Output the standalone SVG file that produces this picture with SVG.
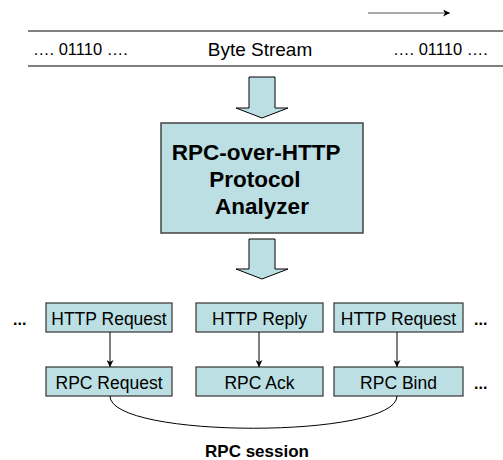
<svg xmlns="http://www.w3.org/2000/svg" width="503" height="460" viewBox="0 0 503 460">
<defs>
<style>
.t{font-family:"Liberation Sans",Arial,sans-serif;fill:#000}
.box{fill:#BBDFE2;stroke:#333;stroke-width:1.2}
.blk{fill:#BBDFE2;stroke:#000;stroke-width:1}
.con{stroke:#000;stroke-width:1;fill:none}
.lbl{font-size:17.5px}
</style>
<marker id="ah" viewBox="0 0 10 10" refX="10" refY="5" markerWidth="7" markerHeight="7" orient="auto" markerUnits="userSpaceOnUse">
<path d="M0,0 L10,5 L0,10 L3,5 z" fill="#000"/>
</marker>
</defs>
<rect width="503" height="460" fill="#fff"/>
<g id="stream">
<line x1="368" y1="13" x2="450" y2="13" stroke="#555" stroke-width="1.2" marker-end="url(#ah)"/>
<line x1="28" y1="31" x2="503" y2="31" stroke="#808080" stroke-width="2"/>
<line x1="28" y1="66" x2="503" y2="66" stroke="#000" stroke-width="1"/>
<text class="t" x="33" y="55" font-size="16.5">…. 01110 ….</text>
<text class="t" x="260" y="56" font-size="19" text-anchor="middle">Byte Stream</text>
<text class="t" x="393" y="55" font-size="16.5">…. 01110 ….</text>
</g>
<g id="arrow1">
<path class="blk" d="M249,77 H275 V108 H288 L262,118 L236,108 H249 Z"/>
</g>
<g id="analyzer">
<rect x="161" y="123" width="202" height="110" fill="#BBDFE2" stroke="#444" stroke-width="1.5"/>
<text class="t" font-size="22.5" font-weight="bold" text-anchor="middle">
<tspan x="259" y="160">RPC-over-HTTP</tspan>
<tspan x="258" y="187">Protocol</tspan>
<tspan x="262" y="214">Analyzer</tspan>
</text>
</g>
<g id="arrow2">
<path class="blk" d="M249,239 H275 V269 H288 L262,279 L236,269 H249 Z"/>
</g>
<g id="http1"><rect class="box" x="46" y="303" width="126" height="29"/><text class="t lbl" x="109" y="325" text-anchor="middle">HTTP Request</text></g>
<g id="http2"><rect class="box" x="196" y="303" width="127" height="29"/><text class="t lbl" x="259.5" y="325" text-anchor="middle">HTTP Reply</text></g>
<g id="http3"><rect class="box" x="334" y="303" width="129" height="29"/><text class="t lbl" x="398.5" y="325" text-anchor="middle">HTTP Request</text></g>
<g id="rpc1"><rect class="box" x="46" y="367" width="126" height="29"/><text class="t lbl" x="109" y="389" text-anchor="middle">RPC Request</text></g>
<g id="rpc2"><rect class="box" x="196" y="367" width="127" height="29"/><text class="t lbl" x="259.5" y="389" text-anchor="middle">RPC Ack</text></g>
<g id="rpc3"><rect class="box" x="334" y="367" width="129" height="29"/><text class="t lbl" x="398.5" y="389" text-anchor="middle">RPC Bind</text></g>
<g id="dots">
<text class="t" x="13" y="325" font-size="16" font-weight="bold">...</text>
<text class="t" x="474" y="325" font-size="16" font-weight="bold">...</text>
<text class="t" x="474" y="389" font-size="16" font-weight="bold">...</text>
</g>
<g id="connectors">
<line class="con" x1="110" y1="332" x2="110" y2="367" marker-end="url(#ah)"/>
<line class="con" x1="259" y1="332" x2="259" y2="367" marker-end="url(#ah)"/>
<line class="con" x1="397" y1="332" x2="397" y2="367" marker-end="url(#ah)"/>
<path class="con" d="M110,396 C110,439 397,439 397,396"/>
</g>
<g id="session">
<text class="t" x="257" y="457" font-size="17" font-weight="bold" text-anchor="middle">RPC session</text>
</g>
</svg>
